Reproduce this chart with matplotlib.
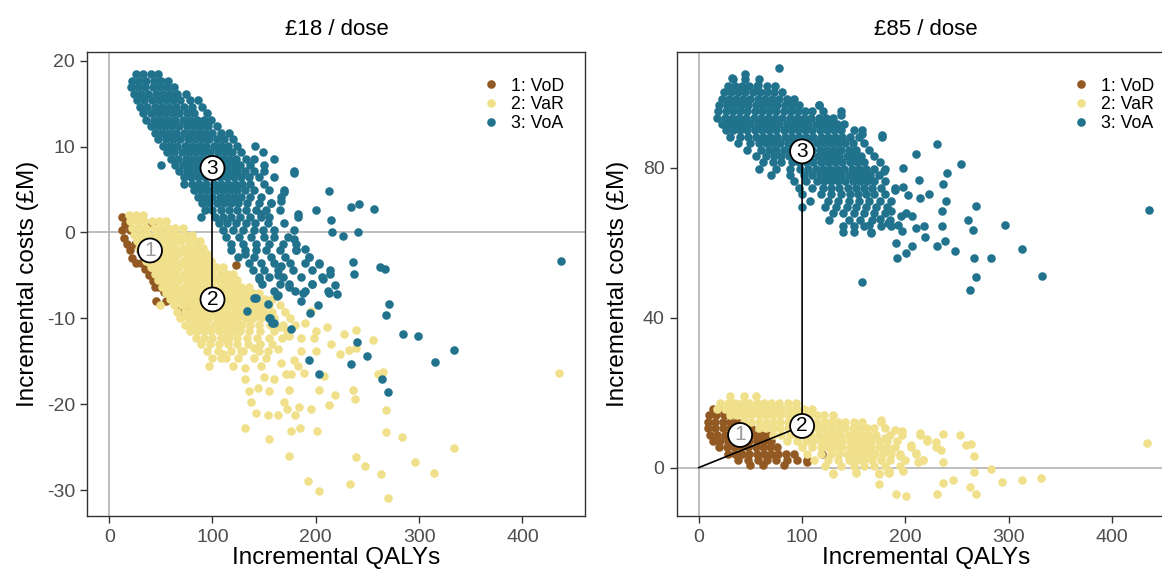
import matplotlib
matplotlib.use("Agg")
import matplotlib.pyplot as plt
from matplotlib.lines import Line2D

plt.rcParams['font.family'] = ['Liberation Sans', 'DejaVu Sans']
plt.rcParams['axes.unicode_minus'] = False

# colours of the three strategies
col_vod = '#925A22'
col_var = '#F1E08B'
col_voa = '#21738D'

# ---- £18 / dose panel : dense cores as rows (cost, [QALYs...]), plus loose points (QALY, cost)
vod18_rows = [
    (1.8, [12.5, 18]), (1.0, [15, 41]), (0.3, [12, 20]), (-0.6, [14, 40]),
    (-1.3, [17, 25]), (-2.0, [20, 30]), (-3.0, [22]), (-3.5, [26, 31]),
    (-4.3, [35]), (-4.9, [39]), (-5.6, [42]), (-6.4, [44, 48]),
    (-6.9, [53, 61]), (-7.3, [58]), (-8.0, [45, 55, 63]), (-8.6, [76, 77]),
    (-9.2, [68, 70]),
]
vod18_pts = [(123, -3.8)]

var18_rows = [
    (2.0, [19, 26, 33]),
    (1.3, [20, 27, 34, 41, 48, 55]),
    (0.5, [22, 29, 36, 43, 50, 57, 64, 71]),
    (-0.3, [24, 31, 38, 45, 52, 59, 66, 73, 80]),
    (-1.0, [27, 34, 41, 48, 55, 62, 69, 76, 83, 88]),
    (-1.8, [29, 36, 43, 50, 57, 64, 71, 78, 85, 91]),
    (-2.5, [32, 39, 46, 53, 60, 67, 74, 81, 88, 95]),
    (-3.3, [36, 43, 50, 57, 64, 71, 78, 85, 92, 99]),
    (-4.0, [40, 47, 54, 61, 68, 75, 82, 89, 96, 103, 110]),
    (-4.8, [44, 51, 58, 65, 72, 79, 86, 93, 100, 107, 114, 120]),
    (-5.5, [47, 54, 61, 68, 75, 82, 89, 96, 103, 110, 117, 124]),
    (-6.3, [51, 58, 65, 72, 79, 86, 93, 100, 107, 114, 121, 128, 135]),
    (-7.0, [55, 62, 69, 76, 83, 90, 97, 104, 111, 118, 125, 132, 139, 145]),
    (-7.8, [59, 66, 73, 80, 87, 94, 101, 108, 115, 122, 129, 136, 143, 151, 158]),
    (-8.5, [49, 63, 70, 77, 84, 91, 98, 105, 112, 119, 126, 133, 140, 147, 155, 165]),
    (-9.3, [66, 73, 80, 87, 94, 101, 108, 115, 122, 129, 136, 143, 150, 158, 170]),
    (-10.0, [69, 76, 83, 90, 97, 104, 111, 118, 125, 132, 139, 147, 160, 175]),
    (-10.8, [73, 80, 87, 94, 101, 108, 115, 122, 129, 136, 145, 156, 168, 180]),
    (-11.5, [78, 85, 92, 99, 106, 113, 120, 127, 135, 146, 160, 172]),
    (-12.3, [84, 92, 100, 108, 116, 124, 133, 143, 155, 167]),
    (-13.0, [89, 98, 106, 115, 124, 134, 146, 158]),
    (-13.8, [95, 105, 118, 130, 145]),
    (-14.6, [100, 113, 125, 140, 152]),
]
var18_pts = [
    (210.6, -11), (238.5, -11.4), (255, -12.5), (215, -13), (223, -14.2), (232, -13.7),
    (239, -13.4), (198, -12.3), (200, -13.8), (185.6, -13.8), (179, -14.9), (176, -16.5),
    (188.5, -16.4), (207.7, -16.7), (203, -18.3), (219, -18.9), (212.5, -20.1), (195, -20.6),
    (184, -20.3), (180, -21.2), (172, -20.6), (163.5, -21.2), (154, -21.2), (142, -21),
    (137.5, -19.7), (135.6, -18.5), (131, -17.1), (155, -18.5), (169, -19.7), (174, -18.3),
    (131, -22.8), (155, -24), (176, -23.1), (184.6, -22.8), (201, -23.1), (174, -26),
    (192, -28.9), (203, -30.1), (232.7, -29.3), (238.5, -26.1), (248, -27.2), (263.5, -28.1),
    (270, -30.9), (268, -23.2), (283.7, -23.8), (296, -26.7), (314.4, -28), (333.6, -25.1),
    (268, -20.7), (236.5, -18.3), (237.5, -19.4), (260.6, -16.5), (265, -16.2), (435.6, -16.3),
    (97, -15.5), (108.7, -14.6), (120, -15.6), (131, -15.8), (144, -18.1), (147, -15.6),
    (166, -15.2), (171, -16.5), (182.7, -15.6), (185.6, -12.3), (174, -12.1), (163.5, -13.6),
    (154, -13.8), (140, -13.5), (128, -13.8), (110.6, -14.2), (113.5, -12.4), (160, -17),
    (150, -16.8), (190, -10.5), (195, -9.2), (165, -11), (200, -11.5), (227, -11.8),
]

voa18_rows = [
    (18.4, [26, 33, 40, 47]),
    (17.6, [22, 29, 36, 43, 50, 57]),
    (16.9, [21, 28, 35, 42, 49, 56, 63]),
    (16.1, [24, 31, 38, 45, 52, 59, 66, 74]),
    (15.4, [27, 34, 41, 48, 55, 62, 69, 78, 86]),
    (14.6, [30, 37, 44, 51, 58, 65, 72, 80, 90]),
    (13.9, [33, 40, 47, 54, 61, 68, 75, 82, 95]),
    (13.1, [36, 43, 50, 57, 64, 71, 78, 85, 92, 99]),
    (12.4, [40, 47, 54, 61, 68, 75, 82, 89, 96, 104]),
    (11.6, [44, 51, 58, 65, 72, 79, 86, 93, 100, 108, 116]),
    (10.9, [47, 55, 62, 69, 76, 83, 90, 97, 104, 111, 120]),
    (10.1, [52, 59, 66, 73, 80, 87, 94, 101, 108, 115, 124, 141]),
    (9.4, [56, 63, 70, 77, 84, 91, 98, 105, 112, 119, 128, 149]),
    (8.6, [60, 67, 74, 81, 88, 95, 102, 109, 116, 123, 132, 140, 160]),
    (7.9, [50, 64, 71, 78, 85, 92, 99, 106, 113, 120, 127, 136, 150]),
    (7.1, [68, 75, 82, 89, 96, 103, 110, 117, 124, 131, 140, 150, 179]),
    (6.4, [72, 79, 86, 93, 100, 107, 114, 121, 128, 135, 145, 160]),
    (5.6, [72, 80, 87, 94, 101, 108, 115, 122, 129, 136, 150]),
    (4.9, [82, 89, 96, 103, 110, 117, 124, 131, 140, 155, 169]),
    (4.1, [86, 93, 100, 107, 114, 121, 128, 136, 147, 166]),
    (3.4, [90, 97, 104, 111, 118, 125, 133, 145, 157]),
    (2.6, [93, 100, 108, 116, 124, 132, 142, 152, 165]),
    (1.8, [89, 102, 110, 118, 127, 136, 147, 155, 183]),
    (1.1, [106, 114, 123, 132, 141, 154, 169]),
    (0.3, [110, 120, 130, 140, 149, 160, 179]),
    (-0.5, [113, 126, 137, 150, 160, 173]),
    (-1.3, [118, 130, 142, 155, 168, 181]),
    (-2.1, [118, 131, 142, 152, 165, 181]),
    (-2.9, [125, 140, 157, 170, 193]),
    (-3.6, [135, 147, 160, 175, 190, 203]),
    (-4.4, [139, 150, 163, 178, 196, 214]),
    (-5.2, [145, 155, 168, 186, 206]),
    (-6.0, [148, 165, 174, 196]),
    (-6.8, [160, 180, 190, 212]),
]
voa18_pts = [
    (212.5, 4.8), (233.7, 3.0), (242, 3.3), (256, 2.7), (200, 2.6), (215, 1.5), (216, 0.1),
    (226, -0.4), (241, 0), (236.5, -3.4), (237, -4.8), (262.5, -4), (267, -4.3), (271, -8.3),
    (268, -9.6), (284.6, -11.8), (299, -12.1), (240, -12.8), (219, -6.1), (212.5, -7),
    (194, -9.4), (202, -8.5), (176, -11.2), (155, -9.9), (158, -10.5), (133, -9.1),
    (140, -7.6), (154, -8.3), (163.5, -7.3), (174, -6.4), (187.5, -7.1), (186, -8),
    (196, -6), (207, -5.4), (214, -4.8), (203, -3.7), (193, -2.9), (190, -1.9), (179, -0.8),
    (181, -2), (166, -3.9), (163, -5), (145, -5.4), (131, -2.5), (179, 6.9), (169, 4.7),
    (166, 3.7), (157, 3.4), (147, 2.2), (182.7, 2.2), (162.5, -7.4), (221, -7.2),
    (333.6, -13.7), (315, -15.1), (250, -14.4), (233.7, -15.3), (193, -14.9), (203, -16.5),
    (264, -17), (270, -18.6), (437.6, -3.3), (142, -7.6), (156, -10), (160, -10.5),
]

# ---- £85 / dose panel
vod85_rows = [
    (15.6, [14, 20]),
    (13.9, [10, 17, 24, 31]),
    (12.2, [9, 16, 23, 30, 37, 44]),
    (10.5, [9, 16, 23, 30, 37, 44, 51, 58]),
    (8.8, [11, 18, 25, 32, 39, 46, 53, 60, 66]),
    (7.1, [14, 21, 28, 35, 42, 49, 56, 63, 70]),
    (5.4, [20, 27, 34, 41, 48, 55, 62, 69, 76]),
    (3.7, [28, 35, 42, 49, 56, 63, 70, 77, 84, 92, 119]),
    (2.0, [38, 48, 57, 66, 75, 85, 95, 105]),
    (0.8, [50, 62, 82]),
]
vod85_pts = [(105, 1.4)]

var85_rows = [
    (19.0, [30, 44, 55]),
    (17.3, [21, 28, 35, 42, 49, 56, 63, 70, 78, 86, 94]),
    (15.6, [18, 25, 32, 39, 46, 53, 60, 67, 74, 81, 88, 95, 102, 110]),
    (13.9, [30, 37, 44, 51, 58, 65, 72, 79, 86, 93, 100, 107, 114, 121, 130]),
    (12.2, [44, 51, 58, 65, 72, 79, 86, 93, 100, 107, 114, 121, 128, 135, 142, 150, 158, 176]),
    (10.5, [58, 65, 72, 79, 86, 93, 100, 107, 114, 121, 128, 135, 142, 149, 156, 163, 170, 180]),
    (8.8, [72, 80, 88, 95, 102, 109, 116, 123, 130, 137, 144, 151, 158, 165, 172, 185, 197, 214]),
    (7.1, [85, 95, 104, 111, 118, 125, 132, 139, 146, 153, 160, 167, 174, 182, 192, 221]),
    (5.4, [100, 110, 118, 125, 132, 139, 146, 153, 160, 167, 174, 181, 190, 205, 230]),
    (3.7, [105, 118, 128, 136, 143, 150, 157, 164, 171, 178, 186, 195, 210]),
    (2.0, [112, 125, 135, 145, 153, 160, 168, 176, 185, 200, 217]),
    (0.3, [122, 138, 150, 160, 170, 180, 195]),
    (-1.4, [130, 152, 174, 184]),
]
var85_pts = [
    (197, 9.7), (214, 9.1), (221, 7.5), (230, 6.8), (236.5, 8.9), (234.6, 4.8), (236.5, 1.4),
    (253, 8.6), (263.5, 6.4), (258.6, 5.9), (266, 3), (282.7, -0.3), (266, -1.3), (246, -3.2),
    (236.5, -4), (262.5, -5.1), (294, -3.8), (312.5, -3.2), (331.7, -2.9), (433.7, 6.5),
    (217, 1.9), (212.5, 1.4), (198, -0.8), (183, -1.1), (174, -4.3), (191, -7), (201, -7.5),
    (230.7, -7), (268, -7), (130, -1.6), (152, -1.3), (174, -1.6), (184, -0.8), (176, 12.7),
    (190, 10), (205, 6), (195, 3), (185, 5), (210, 4), (180, 8),
]

voa85_rows = [
    (103.5, [33, 45, 58]),
    (101.8, [28, 35, 42, 49, 56, 66, 74]),
    (100.1, [24, 31, 38, 45, 52, 59, 66, 73, 81]),
    (98.4, [22, 29, 36, 43, 50, 57, 64, 71, 78, 85, 92]),
    (96.7, [20, 27, 34, 41, 48, 55, 62, 69, 76, 83, 90, 97, 116]),
    (95.0, [19, 26, 33, 40, 47, 54, 61, 68, 75, 82, 89, 96, 103, 110, 120, 138]),
    (93.3, [18, 25, 32, 39, 46, 53, 60, 67, 74, 81, 88, 95, 102, 109, 116, 123, 130]),
    (91.6, [22, 29, 36, 43, 50, 57, 64, 71, 78, 85, 92, 99, 106, 113, 120, 127, 134, 141]),
    (89.9, [26, 33, 40, 47, 54, 61, 68, 75, 82, 89, 96, 103, 110, 117, 124, 131, 138, 150, 158]),
    (88.2, [30, 40, 48, 55, 62, 69, 76, 83, 90, 97, 104, 111, 118, 125, 132, 139, 146, 155, 177]),
    (86.5, [38, 50, 58, 65, 72, 79, 86, 93, 100, 107, 114, 121, 128, 135, 142, 149, 160]),
    (84.8, [47, 60, 68, 75, 82, 89, 96, 103, 110, 117, 124, 131, 138, 145, 152, 165]),
    (83.1, [55, 65, 73, 80, 87, 94, 101, 108, 115, 122, 129, 136, 143, 150, 157, 170]),
    (81.4, [62, 72, 80, 90, 97, 104, 111, 118, 125, 132, 139, 146, 153, 160, 175]),
    (79.7, [58, 75, 88, 98, 106, 113, 120, 127, 134, 141, 148, 155, 162, 170, 180]),
    (78.0, [70, 88, 102, 110, 117, 124, 131, 138, 145, 152, 159, 166, 174]),
    (76.3, [92, 104, 114, 121, 128, 135, 142, 149, 156, 163, 170, 180]),
    (74.6, [97, 110, 120, 128, 136, 144, 152, 160, 168, 176, 190]),
    (72.9, [100, 118, 128, 138, 146, 154, 162, 170, 180]),
    (71.2, [108, 125, 135, 145, 155, 165, 175, 186]),
    (69.5, [100, 122, 133, 143, 152, 162, 172, 182]),
    (67.8, [130, 140, 150, 160, 170, 180]),
    (66.1, [126, 145, 156, 168, 185]),
    (64.4, [140, 150, 160, 176]),
    (62.7, [140, 150, 167]),
]
voa85_pts = [
    (78, 106.5), (31.7, 104), (45, 105), (57, 102), (177, 88.7), (231, 86.3), (210.6, 83.6),
    (254, 80.9), (240, 78.5), (236.5, 75.7), (213.5, 76.8), (223, 73), (214, 72), (239, 71.2),
    (268, 69.8), (235.6, 68.5), (260.6, 66), (296, 64.7), (265, 63.3), (235.6, 64.4),
    (218, 64.4), (210.6, 63.9), (219, 61.5), (238.5, 60.4), (231, 59), (248, 57.7), (206, 59),
    (191, 59.8), (201, 57.1), (192, 56), (266, 55.8), (282.7, 56), (312.5, 58.2),
    (332.7, 51.2), (268, 50.9), (262.5, 47.4), (157.7, 49.6), (167, 62.5), (435.6, 68.7),
    (198, 79.8), (198, 74.7), (203, 72.8), (206, 67.1), (196, 67.1), (193, 64.7), (197, 63),
    (183, 65.2), (175, 66.3), (164.4, 64.7), (186.5, 68.5), (201, 67.9), (190, 74),
    (185.6, 64.4), (179, 79), (158, 89), (138, 94), (116, 96.8),
]

# mean positions of the numbered labels, and the frontier path
labels18 = [(39.5, -2.1), (100, -7.8), (100, 7.5)]
labels85 = [(40, 8.7), (100, 11.1), (100, 84.3)]
frontier18 = [(100, -7.8), (100, 7.5)]
frontier85 = [(0, 0), (100, 11.1), (100, 84.3)]

titles = ['£18 / dose', '£85 / dose']
legend_labels = ['1: VoD', '2: VaR', '3: VoA']


def unpack(rows, pts):
    xs, ys = [], []
    for y, row in rows:
        xs += row
        ys += [y] * len(row)
    for x, y in pts:
        xs.append(x)
        ys.append(y)
    return xs, ys


W, H = 1162, 572
fig = plt.figure(figsize=(W / 100, H / 100), dpi=100)
ax1 = fig.add_axes([87.4 / W, 1 - 516 / H, 498 / W, 464 / H])
ax2 = fig.add_axes([677 / W, 1 - 516 / H, 498 / W, 464 / H])

panels = [
    (ax1, [(vod18_rows, vod18_pts), (var18_rows, var18_pts), (voa18_rows, voa18_pts)],
     labels18, frontier18, (-33.0, 21.0), [-30, -20, -10, 0, 10, 20]),
    (ax2, [(vod85_rows, vod85_pts), (var85_rows, var85_pts), (voa85_rows, voa85_pts)],
     labels85, frontier85, (-12.9, 110.8), [0, 40, 80]),
]
cols = [col_vod, col_var, col_voa]

for i, (ax, series, labs, path, ylim, yt) in enumerate(panels):
    ax.axhline(0, color='#b3b3b3', lw=1.2, zorder=1)
    ax.axvline(0, color='#b3b3b3', lw=1.2, zorder=1)
    for (rows, pts), c in zip(series, cols):
        xs, ys = unpack(rows, pts)
        ax.scatter(xs, ys, s=38, color=c, linewidths=0, zorder=2)
    ax.plot([p[0] for p in path], [p[1] for p in path], color='black', lw=1.2, zorder=3)
    for k, (x, y) in enumerate(labs):
        ax.text(x, y, str(k + 1), ha='center', va='center', fontsize=15,
                color='#999999' if k == 0 else 'black', zorder=4,
                bbox=dict(boxstyle='circle,pad=0.12', fc='white', ec='black', lw=1.3))
    ax.set_xlim(-21.1, 461)
    ax.set_ylim(*ylim)
    ax.set_xticks([0, 100, 200, 300, 400])
    ax.set_yticks(yt)
    ax.tick_params(labelsize=14, labelcolor='#4d4d4d', color='#333333',
                   length=5, width=1, pad=4)
    for s in ax.spines.values():
        s.set_color('#333333')
        s.set_linewidth(1.0)
    ax.set_title(titles[i], fontsize=16, pad=12)
    ax.set_xlabel('Incremental QALYs', fontsize=17.5)
    ax.set_ylabel('Incremental costs (£M)', fontsize=17.5)
    ax.xaxis.set_label_coords(0.5, -0.066)
    ax.yaxis.set_label_coords(-0.097, 0.5)
    handles = [Line2D([], [], ls='none', marker='o', ms=6.2, mfc=c, mec='none') for c in cols]
    ax.legend(handles, legend_labels, loc='upper left', bbox_to_anchor=(0.798, 0.945),
              frameon=False, fontsize=12.8, handlelength=0.7, handletextpad=0.8,
              labelspacing=0.1, borderpad=0, borderaxespad=0)

fig.savefig('out.png', dpi=100)
